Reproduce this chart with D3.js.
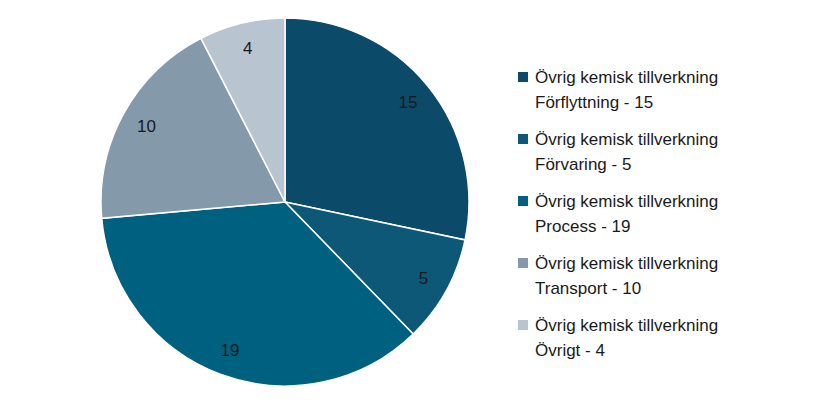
<!DOCTYPE html>
<html><head><meta charset="utf-8">
<script src="https://cdn.jsdelivr.net/npm/d3@7"></script>
<style>body{margin:0;background:#fff;}</style>
</head><body>
<svg id="chart" width="826" height="407"></svg>
<script>
// values
var categories = ["Förflyttning", "Förvaring", "Process", "Transport", "Övrigt"];
var values = [15, 5, 19, 10, 4];
var prefix = "Övrig kemisk tillverkning";
var colors = ["#0b4a68", "#0d5876", "#00607f", "#8499aa", "#b8c4cf"];

var svg = d3.select("#chart");
var cx = 285, cy = 202, r = 184;
var font = "Liberation Sans, Arial, sans-serif";

var pie = d3.pie().sort(null).value(function (d) { return d; });
var arc = d3.arc().innerRadius(0).outerRadius(r);
var labelArc = d3.arc().innerRadius(r * 0.86).outerRadius(r * 0.86);

var g = svg.append("g").attr("transform", "translate(" + cx + "," + cy + ")");
var arcs = pie(values);

g.selectAll("path")
    .data(arcs)
    .enter().append("path")
    .attr("d", arc)
    .attr("fill", function (d, i) { return colors[i]; })
    .attr("stroke", "#fff")
    .attr("stroke-width", 1.5);

g.selectAll("text")
    .data(arcs)
    .enter().append("text")
    .attr("transform", function (d) { return "translate(" + labelArc.centroid(d) + ")"; })
    .attr("text-anchor", "middle")
    .attr("dy", "0.35em")
    .style("font-family", font)
    .style("font-size", "17px")
    .attr("fill", "#1a1a1a")
    .text(function (d) { return d.value; });

// legend
var legend = svg.append("g").attr("transform", "translate(518,77)");
var rows = legend.selectAll("g")
    .data(categories)
    .enter().append("g")
    .attr("transform", function (d, i) { return "translate(0," + (i * 62) + ")"; });

rows.append("rect")
    .attr("x", 0).attr("y", -5)
    .attr("width", 10).attr("height", 10)
    .attr("fill", function (d, i) { return colors[i]; });

var txt = rows.append("text")
    .attr("x", 17)
    .style("font-family", font)
    .style("font-size", "17px")
    .attr("fill", "#1a1a1a");
txt.append("tspan").attr("x", 17).attr("dy", "0.35em").text(prefix);
txt.append("tspan").attr("x", 17).attr("dy", "1.45em")
    .text(function (d, i) { return d + " - " + values[i]; });
</script>
</body></html>
